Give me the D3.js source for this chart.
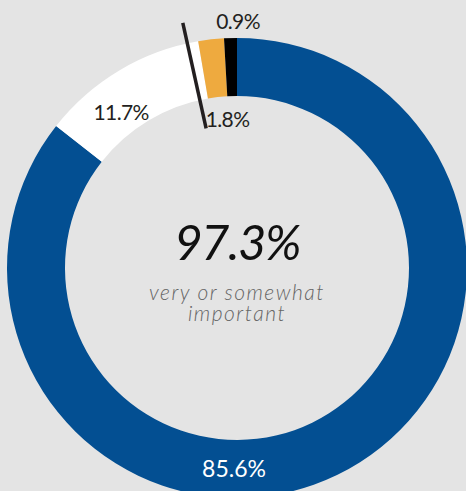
<!DOCTYPE html>
<html lang="en">
<head>
    <meta charset="UTF-8">
    <title>Importance</title>
    <script src="https://d3js.org/d3.v7.min.js"></script>
    <style>
        html, body { margin: 0; padding: 0; background: #e4e4e4; }
        svg { display: block; }
        text { font-family: Lato, "Open Sans", sans-serif; }
    </style>
</head>
<body>
<script>
    // slices clockwise from 12 o'clock
    let categories = ["very important", "somewhat important", "not very important", "not at all important"];
    let shares = [85.6, 11.7, 1.8, 0.9];
    let sliceColors = ["#034f92", "#ffffff", "#eeaa3f", "#000000"];
    let labelColors = ["#ffffff", "#231f20", "#231f20", "#231f20"];
    let headline = "97.3%";
    let subtitle = ["very or somewhat", "important"];

    let width = 466, height = 491;
    let cx = 237, cy = 268;
    let outerR = 230, innerR = 172;

    let svg = d3.select("body").append("svg")
        .attr("width", width)
        .attr("height", height);

    svg.append("rect")
        .attr("width", width)
        .attr("height", height)
        .style("fill", "#e4e4e4");

    let g = svg.append("g")
        .attr("transform", `translate(${cx},${cy})`);

    let data = categories.map(function (c, i) {
        return {name: c, value: shares[i], color: sliceColors[i], labelColor: labelColors[i]};
    });

    let pie = d3.pie().sort(null).value(function (d) { return d.value; });
    let arcs = pie(data);
    let arc = d3.arc().innerRadius(innerR).outerRadius(outerR);

    g.selectAll("path.slice").data(arcs)
        .enter()
        .append("path")
        .attr("class", "slice")
        .attr("d", arc)
        .style("fill", function (d) { return d.data.color; });

    // point at angle a (clockwise from top) and radius r
    function polar(a, r) {
        return [r * Math.sin(a), -r * Math.cos(a)];
    }

    // leader line at the start of the small orange slice
    let la = arcs[2].startAngle - 0.048;
    let p1 = polar(la, outerR + 21), p2 = polar(la, innerR - 29);
    g.append("line")
        .attr("x1", p1[0]).attr("y1", p1[1])
        .attr("x2", p2[0]).attr("y2", p2[1])
        .style("stroke", "#231f20")
        .style("stroke-width", 3.5);

    // label placements (angle, radius, x nudge) per slice
    let labelPos = [
        [Math.PI, (innerR + outerR) / 2, -3],
        [arcs[1].startAngle + (arcs[1].endAngle - arcs[1].startAngle) * 0.36, 194, 0],
        [arcs[2].startAngle, innerR - 21, 16],
        [arcs[3].startAngle, outerR + 17, 15]
    ];

    g.selectAll("text.lbl").data(arcs)
        .enter()
        .append("text")
        .attr("class", "lbl")
        .attr("transform", function (d, i) {
            let p = polar(labelPos[i][0], labelPos[i][1]);
            return `translate(${p[0] + labelPos[i][2]},${p[1]})`;
        })
        .attr("text-anchor", "middle")
        .attr("dy", "0.36em")
        .style("font-size", function (d, i) { return i === 0 ? "23px" : "21px"; })
        .style("font-weight", 400)
        .style("letter-spacing", function (d, i) { return i === 0 ? "0px" : "-0.6px"; })
        .style("fill", function (d) { return d.data.labelColor; })
        .text(function (d) { return d.data.value + "%"; });

    g.append("text")
        .attr("x", 0)
        .attr("y", -8)
        .attr("text-anchor", "middle")
        .style("font-size", "49px")
        .style("font-style", "italic")
        .style("letter-spacing", "-1.5px")
        .style("fill", "#111")
        .text(headline);

    let sub = g.append("text")
        .attr("text-anchor", "middle")
        .style("font-size", "21px")
        .style("font-style", "italic")
        .style("font-weight", 300)
        .style("letter-spacing", "1.5px")
        .style("fill", "#666666");

    sub.selectAll("tspan").data(subtitle)
        .enter()
        .append("tspan")
        .attr("x", 0)
        .attr("y", function (d, i) { return 32 + i * 21; })
        .text(function (d) { return d; });
</script>
</body>
</html>
